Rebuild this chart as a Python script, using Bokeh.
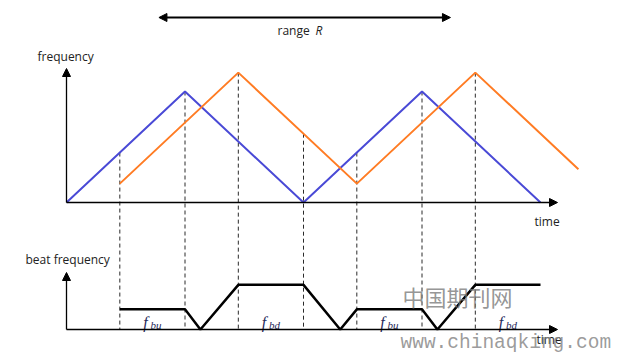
from bokeh.plotting import figure
from bokeh.models import Range1d, Arrow, NormalHead, Label
from bokeh.embed import file_html
from bokeh.resources import INLINE
from bokeh.core.properties import value

# ---------------- data (time units / frequency units) ----------------
tx_time = [0, 1, 2, 3, 4]
tx_freq = [0, 1, 0, 1, 0]
rx_time = [0.45, 1.45, 2.45, 3.45, 4.32]
rx_freq = [0.17, 1.17, 0.17, 1.17, 0.30]
beat_time = [0.45, 1.0, 1.13, 1.45, 2.0, 2.31, 2.45, 3.0, 3.13, 3.45, 4.0]
beat_freq = [0.28, 0.28, 0.0, 0.62, 0.62, 0.0, 0.28, 0.28, 0.0, 0.62, 0.62]
marker_time = [0.45, 1.0, 1.45, 2.0, 2.45, 3.0, 3.45]
marker_top = [0.45, 1.0, 1.17, 0.62, 0.45, 1.0, 1.17]
label_time = [0.725, 1.725, 2.725, 3.725]
label_sub = ["bu", "bd", "bu", "bd"]
range_start, range_end = 0.78, 3.24

# ---------------- layout ----------------
W, H = 629, 352
X0, XS = 66, 118.5          # px of t=0, px per time unit
FY0, FS = 202, 111          # px of f=0 (top panel), px per freq unit
BY0, BS = 329, 72           # px of beat=0 (bottom panel), px per beat unit

p = figure(width=W, height=H, output_backend="svg", toolbar_location=None,
           x_range=Range1d(-X0 / XS, (W - X0) / XS),
           y_range=Range1d((FY0 - H) / FS, FY0 / FS),
           min_border=0, min_border_left=0, min_border_right=0,
           min_border_top=0, min_border_bottom=0)
p.extra_y_ranges = {"beat": Range1d((BY0 - H) / BS, BY0 / BS)}
p.xaxis.visible = False
p.yaxis.visible = False
p.xgrid.visible = False
p.ygrid.visible = False
p.outline_line_color = None
p.background_fill_color = "white"
p.border_fill_color = "white"

# beat axis (b=0) expressed in top-panel frequency units
f_at_beat0 = (FY0 - BY0) / FS

# dashed markers
p.segment(x0=marker_time, y0=marker_top, x1=marker_time,
          y1=[f_at_beat0] * len(marker_time),
          line_color="#2a2a2a", line_width=1, line_dash="4 3")

# transmitted / received ramps
p.line(tx_time, tx_freq, line_color="#4a4ad6", line_width=2)
p.line(rx_time, rx_freq, line_color="#ff7c24", line_width=2)

# beat frequency
p.line(beat_time, beat_freq, y_range_name="beat", line_color="black", line_width=2.5)

# axes arrows
ax_kw = dict(line_color="black", line_width=1.3)
def head():
    return NormalHead(size=8, fill_color="black", line_color="black")

x_axis_end = (557 - X0) / XS
p.add_layout(Arrow(end=head(), x_start=0, y_start=0, x_end=0, y_end=(FY0 - 68) / FS, **ax_kw))
p.add_layout(Arrow(end=head(), x_start=0, y_start=0, x_end=x_axis_end, y_end=0, **ax_kw))
p.add_layout(Arrow(end=head(), x_start=0, y_start=0, x_end=0, y_end=(BY0 - 272) / BS,
                   y_range_name="beat", **ax_kw))
p.add_layout(Arrow(end=head(), x_start=0, y_start=0, x_end=x_axis_end, y_end=0,
                   y_range_name="beat", **ax_kw))

# range R double arrow
ry = (FY0 - 17) / FS
p.add_layout(Arrow(start=head(), end=head(), x_start=range_start, y_start=ry,
                   x_end=range_end, y_end=ry, line_color="black", line_width=2))

# f_bu / f_bd labels
ly = (BY0 - 322) / BS
p.text(x=label_time, y=[ly] * 4, text=["f"] * 4, y_range_name="beat",
       x_offset=-7, text_align="center", text_baseline="middle",
       text_font=value("Liberation Serif"), text_font_style="italic",
       text_font_size="16px", text_color="#1f2a5a")
p.text(x=label_time, y=[ly] * 4, text=label_sub, y_range_name="beat",
       x_offset=-2, y_offset=2, text_align="left", text_baseline="middle",
       text_font=value("Liberation Serif"), text_font_style="italic",
       text_font_size="11px", text_color="#1f2a5a")

# text labels (screen units: y measured from bottom)
def lab(text, x, y_px, style="normal", size="12px", color="#222222", font="Open Sans", alpha=1.0):
    p.add_layout(Label(text=text, x=x, y=H - y_px, x_units="screen", y_units="screen",
                       text_baseline="middle", text_align="left",
                       text_font=font, text_font_style=style,
                       text_font_size=size, text_color=color, text_alpha=alpha))

lab("frequency", 37, 56)
lab("range", 277, 30)
lab("R", 315, 30, style="italic")
lab("time", 534, 221)
lab("beat frequency", 25, 259)
lab("time", 536, 339)

# watermark
lab("中国期刊网", 402, 295, size="22px", color="#7a7a7a", font="Noto Sans CJK SC", alpha=0.8)
lab("www.chinaqking.com", 400, 342, size="19.5px", color="#8a8a8a", font="Liberation Mono", alpha=0.85)

open("out.html", "w").write(file_html(p, INLINE))
